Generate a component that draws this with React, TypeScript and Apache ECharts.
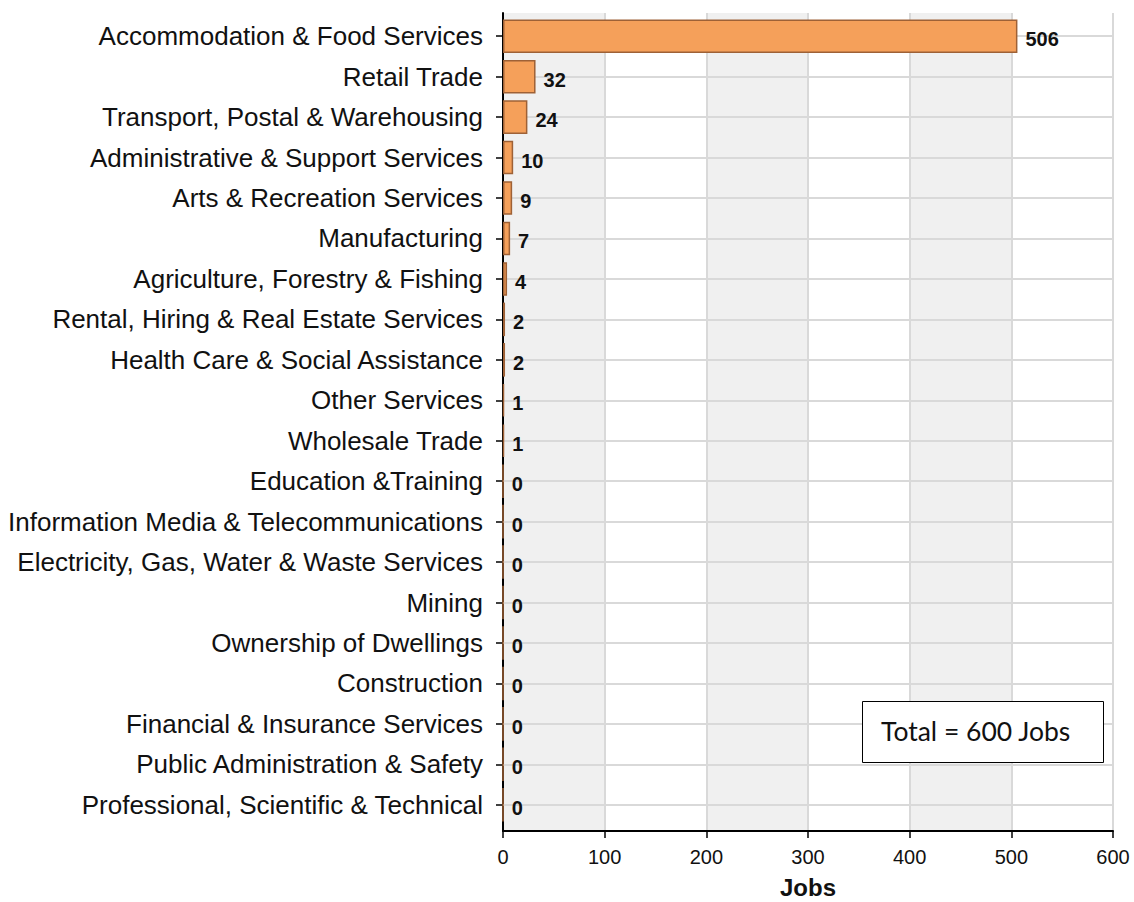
import React, { useEffect, useRef } from "react";
import * as echarts from "echarts";

const categories: string[] = [
  "Accommodation & Food Services",
  "Retail Trade",
  "Transport, Postal & Warehousing",
  "Administrative & Support Services",
  "Arts & Recreation Services",
  "Manufacturing",
  "Agriculture, Forestry & Fishing",
  "Rental, Hiring & Real Estate Services",
  "Health Care & Social Assistance",
  "Other Services",
  "Wholesale Trade",
  "Education &Training",
  "Information Media & Telecommunications",
  "Electricity, Gas, Water & Waste Services",
  "Mining",
  "Ownership of Dwellings",
  "Construction",
  "Financial & Insurance Services",
  "Public Administration & Safety",
  "Professional, Scientific & Technical",
];

const jobs: number[] = [506, 32, 24, 10, 9, 7, 4, 2, 2, 1, 1, 0, 0, 0, 0, 0, 0, 0, 0, 0];

const xTicks = { min: 0, max: 600, interval: 100 };
const axisName = "Jobs";
const totalText = "Total = 600 Jobs";

export default function App() {
  const ref = useRef<HTMLDivElement>(null);

  useEffect(() => {
    document.body.style.margin = "0";
    if (!ref.current) return;
    const chart = echarts.init(ref.current, null, { renderer: "svg" });
    const font = "'Liberation Sans', Arial, sans-serif";
    chart.setOption({
      animation: false,
      grid: [
        { left: 503, right: 21, top: 16, bottom: 77, containLabel: false, outerBoundsMode: "none" },
        { left: 503, right: 21, top: 13, bottom: 71, containLabel: false, outerBoundsMode: "none" },
      ],
      xAxis: [
        {
          type: "value",
          gridIndex: 0,
          min: xTicks.min,
          max: xTicks.max,
          interval: xTicks.interval,
          show: false,
        },
        {
          type: "value",
          gridIndex: 1,
          position: "bottom",
          min: xTicks.min,
          max: xTicks.max,
          interval: xTicks.interval,
          name: axisName,
          nameLocation: "middle",
          nameGap: 44,
          nameTextStyle: { fontFamily: font, fontSize: 24, fontWeight: "bold", color: "#111" },
          axisLine: { show: true, onZero: false, lineStyle: { color: "#000", width: 2 } },
          axisTick: { show: true, length: 7, lineStyle: { color: "#000", width: 1.5 } },
          axisLabel: { fontFamily: font, fontSize: 20, color: "#111", margin: 16 },
          splitLine: { show: true, lineStyle: { color: "#d9d9d9", width: 2 } },
          splitArea: { show: true, areaStyle: { color: ["#f0f0f0", "#ffffff"] } },
        },
      ],
      yAxis: [
        {
          type: "category",
          gridIndex: 0,
          data: categories,
          inverse: true,
          axisLine: { show: true, lineStyle: { color: "#000", width: 2 } },
          axisTick: { show: true, alignWithLabel: true, length: 7, lineStyle: { color: "#000", width: 1.5 } },
          axisLabel: { fontFamily: font, fontSize: 26, color: "#111", margin: 20, interval: 0 },
          splitLine: { show: false },
        },
        {
          type: "value",
          gridIndex: 1,
          min: 0,
          max: 1,
          axisLine: { show: true, onZero: false, lineStyle: { color: "#000", width: 2 } },
          axisTick: { show: false },
          axisLabel: { show: false },
          splitLine: { show: false },
        },
      ],
      series: [
        {
          type: "line",
          xAxisIndex: 0,
          yAxisIndex: 0,
          data: [],
          z: 1,
          silent: true,
          markLine: {
            z: 1,
            silent: true,
            symbol: "none",
            label: { show: false },
            lineStyle: { color: "#d9d9d9", width: 2, type: "solid" },
            data: categories.map((c) => ({ yAxis: c })),
          },
        },
        {
          type: "bar",
          xAxisIndex: 0,
          yAxisIndex: 0,
          data: jobs,
          z: 3,
          barCategoryGap: "17%",
          itemStyle: { color: "#f5a05a", borderColor: "#9e6136", borderWidth: 1.5 },
          label: {
            show: true,
            position: "right",
            distance: 8,
            offset: [0, 3],
            fontFamily: font,
            fontSize: 20,
            fontWeight: "bold",
            color: "#111",
          },
        },
      ],
      graphic: [
        {
          type: "rect",
          left: 862,
          top: 701,
          z: 10,
          shape: { width: 241, height: 61 },
          style: { fill: "#fff", stroke: "#000", lineWidth: 1 },
        },
        {
          type: "text",
          x: 881,
          y: 731,
          z: 11,
          style: {
            text: totalText,
            fontFamily: "Lato, 'Open Sans', sans-serif",
            fontSize: 26.5,
            fill: "#111",
            align: "left",
            verticalAlign: "middle",
          },
        },
      ],
    });
    return () => chart.dispose();
  }, []);

  return <div ref={ref} style={{ width: 1134, height: 902 }} />;
}
